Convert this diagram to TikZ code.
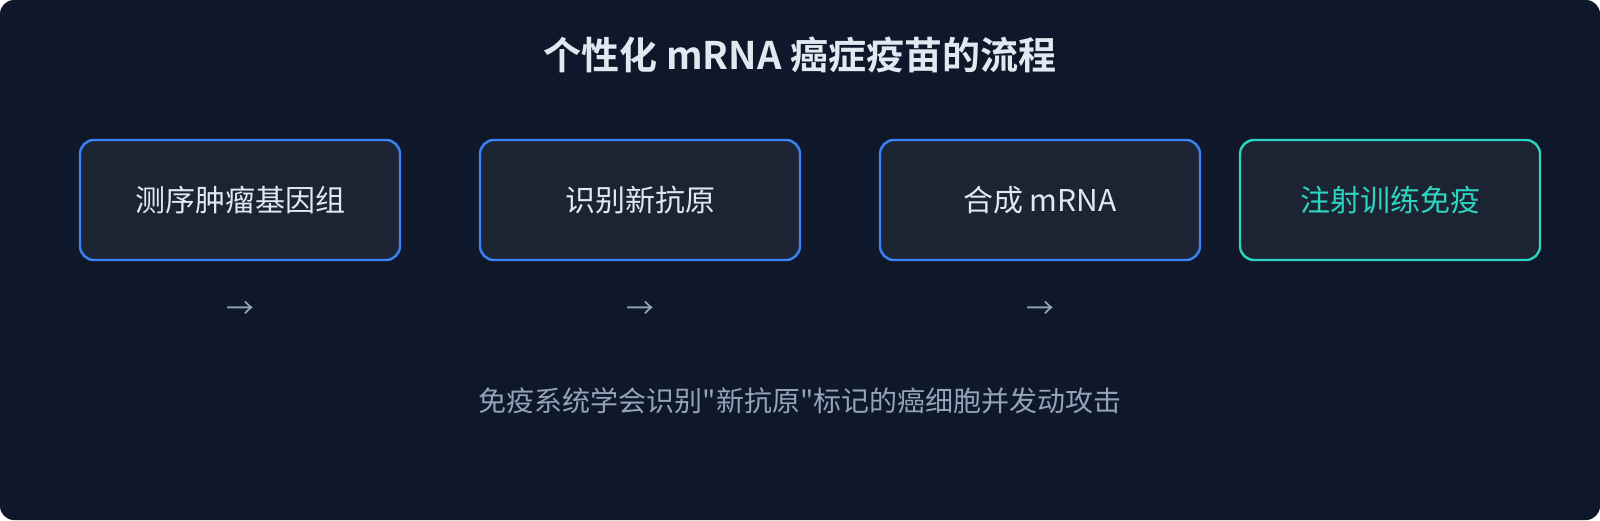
\documentclass[tikz,border=0pt]{standalone}
\usepackage{fontspec}
\setmainfont{Noto Sans CJK SC}
\newfontfamily\cjk{Noto Sans CJK SC}
\newfontfamily\cjkbold{Noto Sans CJK SC Bold}
\definecolor{bgdark}{HTML}{0F172A}
\definecolor{boxfill}{HTML}{1C2434}
\definecolor{blueline}{HTML}{3B82F6}
\definecolor{tealline}{HTML}{2DD4BF}
\definecolor{lighttext}{HTML}{E2E8F0}
\definecolor{mutedtext}{HTML}{94A3B8}
\tikzset{
  stepbox/.style={draw=blueline, fill=boxfill, line width=1.2pt, rounded corners=7pt,
    minimum width=160pt, minimum height=60pt, inner sep=0pt, text=lighttext,
    font=\cjk\fontsize{15pt}{18pt}\selectfont},
  finalbox/.style={stepbox, draw=tealline, text=tealline, minimum width=150pt},
  arrowtext/.style={text=mutedtext, font=\cjk\fontsize{14pt}{16pt}\selectfont, inner sep=0pt},
}
\begin{document}
\begin{tikzpicture}[x=0.5pt,y=-0.5pt]
\useasboundingbox (0,0) rectangle (1600,520);
\fill[white] (0,0) rectangle (1600,520);
\fill[bgdark, rounded corners=7pt] (0,0) rectangle (1600,520);
\node[text=lighttext, font=\cjkbold\fontsize{19pt}{22pt}\selectfont] (title) at (800,55) {个性化 mRNA 癌症疫苗的流程};
\node[stepbox] (s1) at (240,200) {测序肿瘤基因组};
\node[stepbox] (s2) at (640,200) {识别新抗原};
\node[stepbox] (s3) at (1040,200) {合成 mRNA};
\node[finalbox] (s4) at (1390,200) {注射训练免疫};
\node[arrowtext] (a1) at (240,310) {→};
\node[arrowtext] (a2) at (640,310) {→};
\node[arrowtext] (a3) at (1040,310) {→};
\node[text=mutedtext, font=\cjk\fontsize{14pt}{16pt}\selectfont] (note) at (800,401) {免疫系统学会识别"新抗原"标记的癌细胞并发动攻击};
\end{tikzpicture}
\end{document}
